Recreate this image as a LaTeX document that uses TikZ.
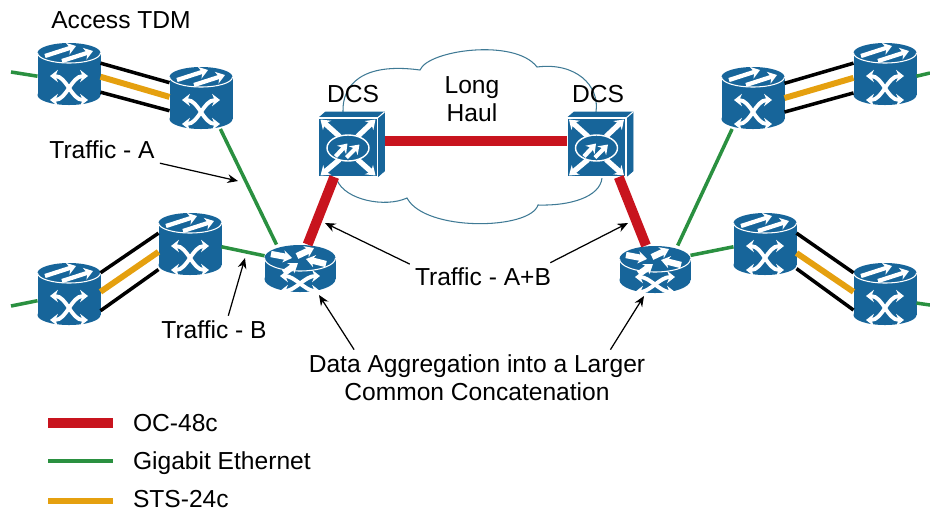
\documentclass[tikz,border=0pt]{standalone}
\usepackage{fontspec}
\setmainfont{Liberation Sans}
\usetikzlibrary{arrows.meta}
\definecolor{devblue}{HTML}{17659A}
\definecolor{ocred}{HTML}{C8141E}
\definecolor{gigegreen}{HTML}{2A9040}
\definecolor{stsorange}{HTML}{E5A00F}
\definecolor{cloudline}{HTML}{3F7A95}
\tikzset{
  tdmnode/.style={inner sep=0pt,outer sep=0pt,minimum width=1.26cm,minimum height=1.24cm},
  routernode/.style={inner sep=0pt,outer sep=0pt,minimum width=1.42cm,minimum height=.94cm},
  dcsnode/.style={inner sep=0pt,outer sep=0pt,minimum width=1.34cm,minimum height=1.30cm},
  label/.style={inner sep=3pt,outer sep=0pt,align=center,font=\fontsize{14}{16}\selectfont},
  oc/.style={draw=ocred,line width=5.7pt},
  gige/.style={draw=gigegreen,line width=2pt},
  sts/.style={draw=stsorange,line width=3.4pt},
  cu/.style={draw=black,line width=2pt},
  pointer/.style={draw=black,line width=.7pt,-{Stealth[length=6pt,width=5pt]}},
  iconarrow/.style={draw=white,line width=2.4pt,-{Stealth[length=5pt,width=7pt]}},
  bothways/.style={draw=white,line width=2.2pt,{Stealth[length=4.5pt,width=7pt]}-{Stealth[length=4.5pt,width=7pt]}},
  tdmicon/.pic={
    \fill[devblue] (-31.5,-21) rectangle (31.5,21);
    \fill[devblue] (0,-21) ellipse [x radius=31.5,y radius=10];
    \fill[devblue] (0,21) ellipse [x radius=31.5,y radius=10];
    \draw[white,line width=.6pt] (-31.5,-21) arc [start angle=180,end angle=0,x radius=31.5,y radius=10];
    \draw[iconarrow] (-24,-18) -- (7,-28);
    \draw[iconarrow] (-7,-13) -- (24,-23);
    \draw[bothways] (-19,2) .. controls (-2,2) and (2,26) .. (19,26);
    \draw[bothways] (19,2) .. controls (2,2) and (-2,26) .. (-19,26);
  },
  routericon/.pic={
    \fill[devblue] (-35.5,-10) rectangle (35.5,11);
    \fill[devblue] (0,-10) ellipse [x radius=35.5,y radius=13];
    \fill[devblue] (0,11) ellipse [x radius=35.5,y radius=13];
    \draw[white,line width=.6pt] (-35.5,-10) arc [start angle=180,end angle=0,x radius=35.5,y radius=13];
    \draw[iconarrow,line width=3.6pt] (-29,-14) -- (-8,-10);
    \draw[iconarrow,line width=3.6pt] (-3,-12) -- (14,-20);
    \draw[iconarrow,line width=3.6pt] (26,-4) -- (6,-9);
    \draw[iconarrow,line width=3.6pt] (-16,5) -- (-2,-5);
    \draw[bothways] (-20,8) .. controls (-5,8) and (5,23) .. (20,23);
    \draw[bothways] (20,8) .. controls (5,8) and (-5,23) .. (-20,23);
  },
  dcsicon/.pic={
    \filldraw[devblue] (-33,-26.5) -- (-26,-32.5) -- (33,-32.5) -- (33,26.5) -- (26,32.5) -- (-33,32.5) -- cycle;
    \draw[white,line width=.8pt] (-33,-26.5) rectangle (26,32.5);
    \draw[white,line width=.6pt] (26,-26.5) -- (33,-32.5);
    \draw[iconarrow,line width=3pt] (-12,-8) -- (-31,-25);
    \draw[iconarrow,line width=3pt] (6,-8) -- (24,-25);
    \draw[iconarrow,line width=3pt] (-12,15) -- (-31,31);
    \draw[iconarrow,line width=3pt] (6,15) -- (24,31);
    \draw[white,line width=.8pt,fill=devblue] (-3.5,3.5) ellipse [x radius=21,y radius=13];
    \draw[iconarrow] (-16,12) -- (-4,-1);
    \draw[iconarrow] (-5,13) -- (8,0);
  }
}
\begin{document}
\begin{tikzpicture}[x=.02cm,y=-.02cm]
  \useasboundingbox (0,0) rectangle (930,512);

  \draw[cloudline,line width=.6pt] (343,112) .. controls (342,85) and (362,62) .. (420,70)
  .. controls (428,50) and (515,38) .. (537,67)
  .. controls (575,62) and (600,85) .. (596,112) -- (602,178)
  .. controls (600,197) and (570,206) .. (538,205)
  .. controls (530,230) and (425,232) .. (407,198)
  .. controls (385,208) and (345,200) .. (337,180) -- cycle;

  \foreach \dev/\x/\y in {tdma/69/74, tdmb/201/98, tdmc/69/294, tdmd/190/244,
    tdme/753/98, tdmf/885/74, tdmg/765/244, tdmh/885/294}
  {
    \node (\dev) [tdmnode] at (\x,\y) {};
    \pic at (\dev) {tdmicon};
  }
  \foreach \dev/\x/\y in {routerl/300/268, routerr/655/269}
  {
    \node (\dev) [routernode] at (\x,\y) {};
    \pic at (\dev) {routericon};
  }
  \foreach \dev/\x/\y in {dcsl/351.5/144.5, dcsr/600/144.5}
  {
    \node (\dev) [dcsnode] at (\x,\y) {};
    \pic at (\dev) {dcsicon};
  }

  \coordinate (edgea) at (11,72);
  \coordinate (edgec) at (11,306);
  \coordinate (edgef) at (930,73);
  \coordinate (edgeh) at (930,305);

  \foreach \a/\b in {dcsl.6/dcsr.174, dcsl.242/routerl.72, dcsr.-60/routerr.111}
  \draw[oc] (\a) -- (\b);
  \foreach \a/\b in {edgea/tdma.184, edgec/tdmc.192, edgef/tdmf.-4, edgeh/tdmh.-16,
    tdmb.-58/routerl.135, tdmd.-5/routerl.161, routerr.46/tdme.236, routerr.21/tdmg.185}
  \draw[gige] (\a) -- (\b);
  \foreach \a/\b in {tdma.19/tdmb.154, tdma.-30/tdmb.202, tdmc.34/tdmd.161, tdmc.-28/tdmd.219,
    tdme.25/tdmf.161, tdme.-24/tdmf.211, tdmg.19/tdmh.146, tdmg.-38/tdmh.207}
  \draw[cu] (\a) -- (\b);
  \foreach \a/\b in {tdma.-5/tdmb.178, tdmc.4/tdmd.194, tdme.0/tdmf.187, tdmg.-16/tdmh.176}
  \draw[sts] (\a) -- (\b);

  \node (access) [label] at (121,20) {Access TDM};
  \node (dcstextl) [label] at (353,94) {DCS};
  \node (dcstextr) [label] at (598,94) {DCS};
  \node (longhaul) [label] at (472,99) {Long\\Haul};
  \node (trafa) [label] at (102,150) {Traffic - A};
  \node (trafb) [label] at (214,330) {Traffic - B};
  \node (trafab) [label] at (483,277) {Traffic - A+B};
  \node (aggr) [label] at (477,378) {Data Aggregation into a Larger\\Common Concatenation};

  \coordinate (tipa) at (238,181);
  \coordinate (tipb) at (245,258);
  \coordinate (tipabl) at (325,223);
  \coordinate (tipabr) at (628,223);
  \coordinate (tipal) at (319,295);
  \coordinate (tipar) at (644,296);
  \foreach \a/\b in {trafa/tipa, trafb.45/tipb, trafab.170/tipabl, trafab.12/tipabr,
    aggr.167/tipal, aggr.12/tipar}
  \draw[pointer] (\a) -- (\b);

  \foreach \key/\y/\ty/\kind/\txt in {oc/423/423/oc/OC-48c, gig/461/463/gige/Gigabit Ethernet, st/501/499/sts/STS-24c}
  {
    \coordinate (\key a) at (48,\y);
    \coordinate (\key b) at (113,\y);
    \draw[\kind] (\key a) -- (\key b);
    \node (\key text) [label,anchor=west,inner sep=0pt] at (133,\ty) {\txt};
  }
\end{tikzpicture}
\end{document}
